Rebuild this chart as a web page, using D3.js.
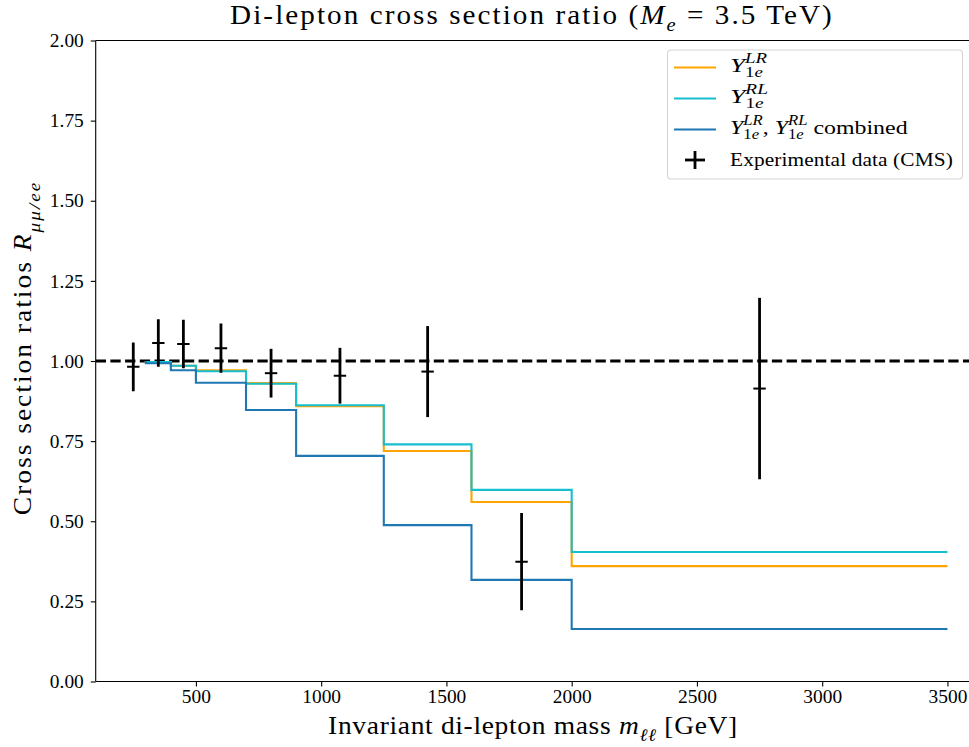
<!DOCTYPE html>
<html>
<head>
<meta charset="utf-8">
<script src="https://cdn.jsdelivr.net/npm/d3@7"></script>
<style>
  html, body { margin: 0; padding: 0; background: #fff; }
  svg { display: block; }
  text { font-family: "Liberation Serif", "DejaVu Serif", serif; fill: #000; }
</style>
</head>
<body>
<svg id="chart" width="969" height="747"></svg>
<script>
// ---- data ----
const binEdges = [300, 400, 500, 700, 900, 1250, 1600, 2000, 3500];
// step-before values: value i holds on (edge[i-1], edge[i]]; first value = starting point
const ratioLR       = [1.000, 0.997, 0.985, 0.971, 0.931, 0.859, 0.719, 0.560, 0.360];
const ratioRL       = [1.000, 0.997, 0.985, 0.968, 0.929, 0.862, 0.740, 0.598, 0.404];
const ratioCombined = [1.000, 0.993, 0.971, 0.932, 0.847, 0.704, 0.488, 0.317, 0.164];

const expMass  = [250, 350, 450, 600, 800, 1075, 1425, 1800, 2750];
const expRatio = [0.982, 1.056, 1.053, 1.040, 0.962, 0.954, 0.967, 0.374, 0.914];
const expError = [0.076, 0.074, 0.076, 0.077, 0.076, 0.087, 0.142, 0.152, 0.283];

const xTickValues = [500, 1000, 1500, 2000, 2500, 3000, 3500];
const yTickValues = [0, 0.25, 0.5, 0.75, 1.0, 1.25, 1.5, 1.75, 2.0];

const seriesColors = ["#ffa500", "#17becf", "#1f77b4"];

// ---- layout ----
const svg = d3.select("#chart");
const L = 95.7, R = 970, T = 40.5, B = 681.5;
const x = d3.scaleLinear().domain([100, 3590]).range([L, R]);
const y = d3.scaleLinear().domain([0, 2]).range([B, T]);

// rich text helper: parts with italic / sub / sup; optional fit to a width
function rich(parent, parts, fs, o) {
  const g = parent.append("g");
  const t = g.append("text").attr("font-size", fs).attr("text-anchor", o.anchor || "start");
  let level = 0, recorded = 0, recording = false;
  parts.forEach(p => {
    const ts = t.append("tspan").text(p.t);
    if (p.it) ts.attr("font-style", "italic");
    const small = p.sub || p.sup;
    const shift = p.sub ? (o.subShift || 0.28) * fs : p.sup ? -0.45 * fs : 0;
    ts.attr("font-size", small ? 0.7 * fs : fs);
    const d = shift - level;
    if (d !== 0) ts.attr("dy", d);
    level = shift;
    if (p.back) { ts.attr("dx", -recorded); recording = false; recorded = 0; }
    if (p.mark) { recording = true; recorded = 0; }
    if (recording) recorded += ts.node().getComputedTextLength();
    if (p.endmark) recording = false;
  });
  let sx = 1;
  if (o.width) {
    const w0 = t.node().getBBox().width;
    const n = t.node().getNumberOfChars();
    sx = Math.min(o.maxScale || 1.1, o.width / w0);
    const ls = (o.width / sx - w0) / n;
    if (ls > 0 && !o.noSpacing) t.attr("letter-spacing", ls);
    else sx = o.width / w0;
  }
  g.attr("transform", `translate(${o.x},${o.y})` + (o.rotate ? ` rotate(${o.rotate})` : "") + ` scale(${sx},1)`);
  return g;
}

svg.append("defs").append("clipPath").attr("id", "clip")
  .append("rect").attr("x", L).attr("y", T).attr("width", R - L).attr("height", B - T);

const plot = svg.append("g").attr("clip-path", "url(#clip)");

// reference dashed line at 1
plot.append("line")
  .attr("x1", L).attr("x2", R).attr("y1", y(1)).attr("y2", y(1))
  .attr("stroke", "#000").attr("stroke-width", 2.8).attr("stroke-dasharray", "10.3 4.4");

// step lines
const allSeries = [ratioLR, ratioRL, ratioCombined];
const stepLine = d3.line().x((d, i) => x(binEdges[i])).y(d => y(d)).curve(d3.curveStepBefore);
allSeries.forEach((s, k) => {
  plot.append("path").datum(s)
    .attr("d", stepLine)
    .attr("fill", "none")
    .attr("stroke", seriesColors[k])
    .attr("stroke-width", 2.1);
});

// experimental data with error bars
const pts = plot.append("g").selectAll("g")
  .data(expMass.map((m, i) => ({m, r: expRatio[i], e: expError[i]})))
  .join("g");
pts.append("line")
  .attr("x1", d => x(d.m)).attr("x2", d => x(d.m))
  .attr("y1", d => y(d.r - d.e)).attr("y2", d => y(d.r + d.e))
  .attr("stroke", "#000").attr("stroke-width", 2.8);
pts.append("line")
  .attr("x1", d => x(d.m) - 6.2).attr("x2", d => x(d.m) + 6.2)
  .attr("y1", d => y(d.r)).attr("y2", d => y(d.r))
  .attr("stroke", "#000").attr("stroke-width", 2);

// axes
const fsTick = 19.4;
const xAxis = svg.append("g").attr("transform", `translate(0,${B})`)
  .call(d3.axisBottom(x).tickValues(xTickValues).tickSize(4.9).tickPadding(3).tickFormat(d3.format("d")));
const yAxis = svg.append("g").attr("transform", `translate(${L},0)`)
  .call(d3.axisLeft(y).tickValues(yTickValues).tickSize(4.9).tickPadding(7).tickFormat(d3.format(".2f")));
[xAxis, yAxis].forEach(a => {
  a.select(".domain").remove();
  a.selectAll(".tick line").attr("stroke", "#000").attr("stroke-width", 1.1);
  a.selectAll(".tick text").attr("font-size", fsTick)
    .attr("font-family", "Liberation Serif, DejaVu Serif, serif").attr("fill", "#000");
});

// spines
const spine = (x1, y1, x2, y2) => svg.append("line").attr("x1", x1).attr("y1", y1).attr("x2", x2).attr("y2", y2)
  .attr("stroke", "#000").attr("stroke-width", 1.1);
spine(L, T, L, B); spine(L, B, R, B); spine(L, T, R, T); spine(R, T, R, B);

// title
rich(svg, [
  {t: "Di-lepton cross section ratio ("},
  {t: "M", it: true},
  {t: "e", it: true, sub: true},
  {t: " = 3.5 TeV)"}
], 26.5, {x: 532, y: 23.5, anchor: "middle", width: 604});

// x label
rich(svg, [
  {t: "Invariant di-lepton mass "},
  {t: "m", it: true},
  {t: "\u2113\u2113", it: true, sub: true},
  {t: " [GeV]"}
], 25, {x: 533, y: 734, anchor: "middle", width: 410});

// y label
rich(svg, [
  {t: "Cross section ratios "},
  {t: "R", it: true},
  {t: "\u03bc\u03bc/ee", it: true, sub: true}
], 25, {x: 31, y: 348, rotate: -90, anchor: "middle", width: 335, subShift: 0.34});

// legend
const leg = svg.append("g");
leg.append("rect").attr("x", 667.5).attr("y", 50).attr("width", 295).attr("height", 129)
  .attr("rx", 3.5).attr("fill", "#fff").attr("fill-opacity", 0.8)
  .attr("stroke", "#d5d5d5").attr("stroke-width", 1.1);
const rowY = [67.5, 98.5, 129.5, 160];
const fsLeg = 19.4;
seriesColors.forEach((c, k) => {
  leg.append("line").attr("x1", 674).attr("x2", 716).attr("y1", rowY[k]).attr("y2", rowY[k])
    .attr("stroke", c).attr("stroke-width", 2.1);
});
const Yterm = (a) => [
  {t: "Y", it: true},
  {t: "1", sub: true, mark: true},
  {t: "e", it: true, sub: true, endmark: true},
  {t: a, it: true, sup: true, back: true},
];
rich(leg, Yterm("LR"), fsLeg, {x: 730, y: rowY[0] + 4, width: 38, noSpacing: true});
rich(leg, Yterm("RL"), fsLeg, {x: 730, y: rowY[1] + 4, width: 38, noSpacing: true});
rich(leg, [...Yterm("LR"), {t: ", "}, ...Yterm("RL"), {t: " combined"}], fsLeg,
  {x: 730, y: rowY[2] + 4, width: 178, noSpacing: true});
leg.append("line").attr("x1", 695).attr("x2", 695).attr("y1", rowY[3] - 9).attr("y2", rowY[3] + 9)
  .attr("stroke", "#000").attr("stroke-width", 2.8);
leg.append("line").attr("x1", 685).attr("x2", 705).attr("y1", rowY[3]).attr("y2", rowY[3])
  .attr("stroke", "#000").attr("stroke-width", 2.8);
rich(leg, [{t: "Experimental data (CMS)"}], fsLeg, {x: 730, y: rowY[3] + 6, width: 223});
</script>
</body>
</html>
